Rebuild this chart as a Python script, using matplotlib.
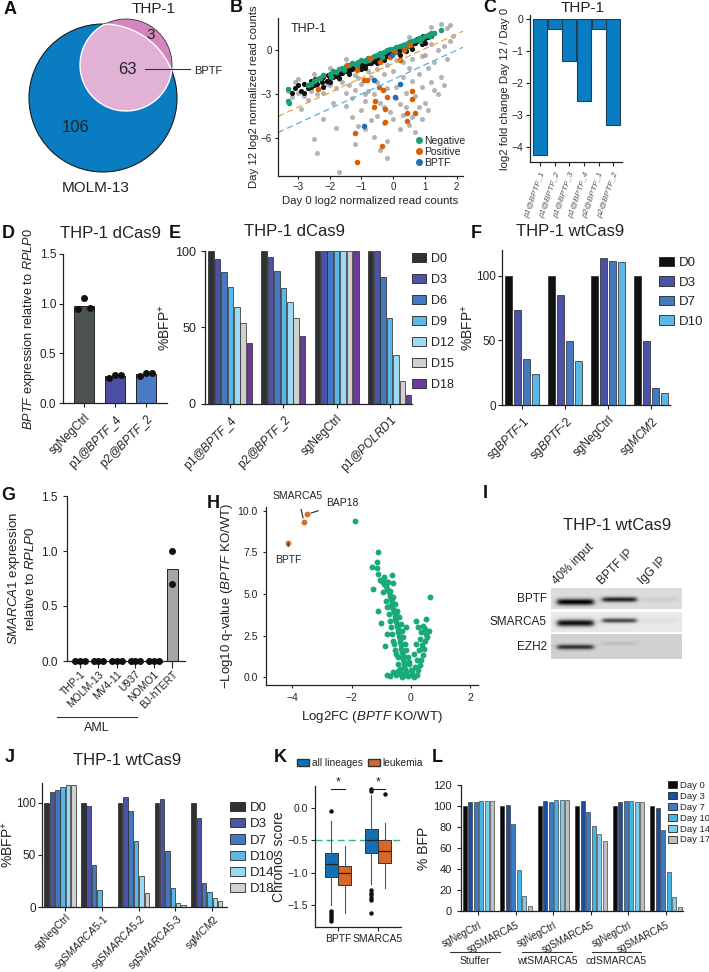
import numpy as np
import matplotlib
matplotlib.use('Agg')
import matplotlib.pyplot as plt
from matplotlib.patches import Circle, Patch
from matplotlib.lines import Line2D

plt.rcParams['font.family'] = ['Liberation Sans', 'DejaVu Sans']
plt.rcParams['mathtext.fontset'] = 'custom'
plt.rcParams['mathtext.rm'] = 'Liberation Sans'
plt.rcParams['mathtext.it'] = 'Liberation Sans:italic'
plt.rcParams['mathtext.bf'] = 'Liberation Sans:bold'
plt.rcParams.update({'axes.edgecolor': '#222222', 'xtick.color': '#222222', 'ytick.color': '#222222',
                     'text.color': '#222222', 'axes.labelcolor': '#222222', 'axes.linewidth': 0.9,
                     'xtick.major.size': 3, 'ytick.major.size': 3})

# ---------------- data ----------------
# A: venn counts
venn_only_molm = 106
venn_shared = 63
venn_only_thp = 3

# B: screen scatter (day0, day12)
gray_x = [-2.5, -1.5, 0.5, 1.2, 1.5, 1.8, 1.7, -3.0, -2.0, -3.2, -3.0, -2.8, -2.6, -2.4, -2.2, -2.0, -1.8, -1.6,
          -1.5, -1.4, -1.3, -1.2, -1.1, -1.0, -0.9, -0.8, -0.7, -0.6, -0.5, -0.4, -0.3, -0.2, -0.1, 0.0, 0.1, 0.2,
          0.3, 0.4, 0.5, 0.6, 0.7, 0.8, 0.9, 1.0, 1.1, 1.2, 1.3, 1.4, 1.5, 1.6, 1.7, 1.9, 1.2, 0.9, 0.6, 0.3, 0.1,
          -0.2, -0.5, -0.8, -1.2, -1.7, -2.1, -2.7, -2.5, -2.4, -1.7, -1.2, -0.9, -0.6, -0.5, -0.3, -0.2, 0.0, 0.2,
          0.4, 0.5, 0.9, 1.0, 1.1, 1.3, -1.0, -1.3, -1.8, -2.2, -1.5, -0.7, 0.3, 0.7, -0.4, 0.1, -0.9, 1.6, 0.8,
          -1.9, -2.9, -0.3, 0.6, -1.1, -0.2, -3.3, -3.1, 1.4, 1.8]
gray_y = [-1.6, -0.6, 0.9, 1.6, 1.8, 1.7, 1.5, -2.0, -1.2, -3.2, -2.9, -3.1, -2.8, -3.0, -2.9, -2.4, -2.6, -2.2,
          -2.9, -2.4, -3.3, -2.7, -1.9, -2.3, -3.5, -2.8, -1.8, -3.0, -2.2, -3.6, -1.6, -2.6, -4.2, -1.4, -2.5, -3.7,
          -1.8, -2.9, -1.2, -2.1, -3.1, -1.6, -2.5, -0.3, -1.2, -2.2, -0.8, -3.0, -1.8, 0.3, -0.6, 1.0, 0.4, -0.4,
          -0.6, -0.8, -0.7, -1.0, -1.3, -1.4, -1.7, -2.0, -2.3, -3.4, -6.1, -7.0, -8.3, -6.4, -5.4, -5.9, -4.5, -5.0,
          -6.2, -4.7, -5.4, -3.9, -5.1, -4.7, -3.6, -4.1, -2.7, -4.1, -4.6, -5.3, -4.7, -3.8, -4.8, -4.4, -5.6, -6.8,
          -3.3, -3.0, -2.4, -3.9, -3.6, -4.0, -3.9, -4.6, -5.2, -7.4, -2.8, -2.2, 0.0, 0.6]
black_x = [-3.2, -3.1, -3.0, -2.9, -2.8, -2.7, -2.6, -2.5, -2.45, -2.4, -2.3, -2.25, -2.2, -2.1, -2.05, -2.0, -1.95,
           -1.9, -1.85, -1.8, -1.75, -1.7, -1.65, -1.6, -1.55, -1.5, -1.45, -1.4, -1.35, -1.3, -1.25, -1.2, -1.15,
           -1.1, -1.05, -1.0, -0.95, -0.9, -0.85, -0.8, -0.75, -0.7, -0.65, -0.6, -0.55, -0.5, -0.45, -0.4, -0.35,
           -0.3, -0.25, -0.2, -0.15, -0.1, -0.05, 0.0, 0.05, 0.1, 0.15, 0.2, 0.25, 0.3, 0.35, 0.4, 0.45, 0.5, 0.55,
           0.6, 0.65, 0.7, 0.75, 0.8, 0.85, 0.9, 0.95, 1.0, 1.05, 1.1, 1.15, 1.2, 1.3, -2.6, -1.0, -0.5, 0.2, 0.6,
           -1.7, -2.2, 1.0, -1.4, -0.9, -0.3, 0.4, 0.9, -2.0, -2.8]
black_y = [-2.9, -2.6, -2.4, -2.8, -2.3, -2.6, -2.1, -2.4, -2.0, -2.3, -1.9, -2.2, -1.8, -2.1, -1.7, -1.9, -1.6,
           -1.8, -1.5, -1.75, -1.45, -1.6, -1.35, -1.55, -1.3, -1.45, -1.2, -1.4, -1.1, -1.3, -1.05, -1.25, -0.95,
           -1.15, -0.9, -1.05, -0.8, -1.0, -0.7, -0.9, -0.65, -0.85, -0.55, -0.75, -0.45, -0.7, -0.4, -0.6, -0.3,
           -0.5, -0.2, -0.4, -0.1, -0.3, 0.0, -0.2, 0.1, -0.1, 0.2, 0.0, 0.3, 0.1, 0.35, 0.2, 0.45, 0.3, 0.55,
           0.4, 0.65, 0.5, 0.75, 0.6, 0.85, 0.7, 0.95, 0.8, 1.0, 0.9, 1.1, 1.0, 1.2, -2.5, -1.3, -0.9, -0.3, 0.1,
           -1.9, -2.5, 0.5, -1.6, -1.2, -0.7, -0.05, 0.45, -2.2, -2.9]
neg_x = [-3.3, -3.32, -3.28, -2.7, -2.5, -2.3, -2.2, -2.0, -1.9, -1.8, -1.7, -1.6, -1.5, -1.4, -1.3, -1.2, -1.1,
         -1.0, -0.9, -0.8, -0.7, -0.6, -0.5, -0.4, -0.3, -0.2, -0.1, 0.0, 0.1, 0.2, 0.3, 0.4, 0.5, 0.6, 0.7, 0.8,
         0.9, 1.0, 1.1, 1.2, 1.3, 1.5, -2.6, -2.4, -1.95, -1.55, -1.15, -0.75, -0.35, 0.05, 0.45, 0.85, 1.15]
neg_y = [-2.65, -3.45, -3.6, -2.4, -2.1, -1.9, -1.7, -1.6, -1.45, -1.5, -1.3, -1.2, -1.1, -1.0, -0.9, -0.95, -0.8,
         -0.7, -0.75, -0.55, -0.5, -0.4, -0.3, -0.2, -0.15, 0.0, 0.05, 0.1, 0.2, 0.3, 0.35, 0.45, 0.55, 0.6, 0.7,
         0.8, 0.85, 0.95, 1.05, 1.15, 1.2, 1.4, -2.3, -2.0, -1.8, -1.35, -1.05, -0.7, -0.45, -0.1, 0.3, 0.65, 0.95]
pos_x = [-2.36, -0.93, -0.83, -0.46, -0.32, -0.19, -0.56, -0.62, -0.25, 0.60, 0.60, 0.44, 0.70, 0.44, -0.25,
         -1.20, -0.35, -1.14, 0.23, 0.02, 0.33, -0.09, -0.40, -0.72, 0.54, -1.14, -1.46]
pos_y = [-2.64, -2.06, -2.06, -2.52, -2.69, -3.22, -3.45, -3.91, -4.03, -2.76, -3.33, -4.26, -4.26, -4.84, -4.91,
         -5.65, -6.57, -7.62, -0.67, -0.09, 0.02, -0.44, -0.79, -0.56, 0.37, -1.37, -1.02]
bptf_x = [-0.62, 0.23, 0.07, -0.93, -0.04]
bptf_y = [-2.02, -2.29, -3.17, -5.19, -0.33]

# C: per-guide log2 fold change
c_guides = ['p1@BPTF_1', 'p1@BPTF_2', 'p1@BPTF_3', 'p1@BPTF_4', 'p2@BPTF_1', 'p2@BPTF_2']
c_lfc = [-4.25, -0.33, -1.33, -2.55, -0.33, -3.3]

# D: qPCR
d_groups = ['sgNegCtrl', 'p1@$\\it{BPTF}$_4', 'p2@$\\it{BPTF}$_2']
d_mean = [0.98, 0.27, 0.29]
d_reps = [[0.95, 1.06, 0.96], [0.25, 0.28, 0.28], [0.27, 0.30, 0.30]]

# E: dCas9 competition
e_groups = ['p1@$\\it{BPTF}$_4', 'p2@$\\it{BPTF}$_2', 'sgNegCtrl', 'p1@$\\it{POLRD1}$']
e_days = ['D0', 'D3', 'D6', 'D9', 'D12', 'D15', 'D18']
e_values = [[100, 94.5, 86, 76.5, 63.5, 53, 40],
            [100, 96, 87, 75.5, 66.5, 56, 44.5],
            [100, 100, 100, 100, 100, 100, 100],
            [100, 100, 83, 56, 32, 15, 5.7]]

# F: wtCas9 competition
f_groups = ['sg$\\it{BPTF}$-1', 'sg$\\it{BPTF}$-2', 'sgNegCtrl', 'sg$\\it{MCM2}$']
f_days = ['D0', 'D3', 'D7', 'D10']
f_values = [[100, 73.5, 36, 24],
            [100, 85.5, 49.5, 34],
            [100, 113.5, 111.5, 111],
            [100, 49.5, 13.5, 9.5]]

# G: SMARCA1 expression
g_lines = ['THP-1', 'MOLM-13', 'MV4-11', 'U937', 'NOMO1', 'BJ-hTERT']
g_mean = [0.0, 0.0, 0.0, 0.0, 0.0, 0.84]
g_reps = [[0, 0, 0], [0, 0, 0], [0, 0, 0], [0, 0, 0], [0, 0, 0], [1.0, 0.7]]

# H: proteomics volcano
h_hits = ['BPTF', 'SMARCA5', 'BAP18']
h_hit_fc = [-4.13, -3.6, -3.5]
h_hit_q = [8.07, 9.33, 9.8]
h_fc = [-1.87, 0.64, -1.1, -1.14, -1.3, -1.13, -1.1, -1.27, -1.04, -0.65, -0.82, -0.6, -0.93, -1.1, -1.0, -0.87,
        -0.6, -0.7, -0.49, -0.82, -0.6, -0.49, -0.15, 0.18, 0.24, 0.35, 0.46, 0.6, 0.18, 0.12, -0.06, 0.5, 0.42,
        0.3, 0.52, -0.95, -0.9, -0.85, -0.8, -0.75, -0.72, -0.68, -0.65, -0.62, -0.6, -0.57, -0.55, -0.52, -0.5,
        -0.48, -0.45, -0.43, -0.4, -0.38, -0.36, -0.34, -0.32, -0.3, -0.28, -0.26, -0.24, -0.22, -0.2, -0.18,
        -0.16, -0.7, -0.62, -0.55, -0.47, -0.4, -0.35, -0.3, -0.25, -0.2, -0.15, -0.1, -0.05, 0.0, 0.05, -0.85,
        -0.8, -0.75, -0.7, -0.66, -0.62, -0.58, -0.52, -0.45, -0.42, -0.38, -0.35, -0.5, -0.6, -0.7, -0.8, -0.3,
        -0.1, 0.1, 0.2, 0.25, 0.3, 0.35, 0.4, 0.45, 0.15, 0.05, -0.25, -0.45, 0.2, 0.28, 0.38, 0.55, 0.48, -0.98,
        -0.88, -0.78, -0.9]
h_q = [9.4, 4.8, 7.55, 6.9, 6.6, 6.55, 6.2, 5.3, 5.85, 6.15, 5.75, 5.65, 5.15, 4.0, 3.25, 1.85, 4.8, 4.3, 3.8,
       2.6, 2.2, 1.4, 3.0, 3.4, 3.0, 2.7, 2.2, 2.8, 2.0, 1.4, 0.9, 3.5, 3.1, 2.3, 2.6, 5.7, 5.6, 5.5, 5.3, 5.1,
       4.9, 4.7, 4.5, 4.3, 4.1, 3.9, 3.7, 3.5, 3.3, 3.1, 2.9, 2.7, 2.5, 2.3, 2.1, 1.9, 1.7, 1.5, 1.3, 1.1, 0.9,
       0.7, 0.5, 0.3, 0.1, 5.2, 4.8, 4.4, 4.0, 3.6, 3.2, 2.8, 2.4, 2.0, 1.6, 1.2, 0.8, 0.4, 0.1, 4.6, 4.2, 3.8,
       3.4, 3.0, 2.6, 2.0, 1.6, 1.2, 0.8, 0.5, 0.2, 0.1, 0.3, 0.05, 0.15, 0.0, 0.05, 0.0, 0.15, 0.4, 0.7, 1.0,
       1.3, 1.7, 0.6, 0.3, 0.2, 0.35, 1.0, 1.6, 1.9, 2.4, 2.9, 5.8, 5.75, 5.7, 6.0]

# I: co-IP blot
blot_rows = ['BPTF', 'SMARCA5', 'EZH2']
blot_lanes = ['40% input', 'BPTF IP', 'IgG IP']
band_intensity = [[0.85, 0.72, 0.05], [0.85, 0.62, 0.04], [0.62, 0.07, 0.0]]
row_background = [0.86, 0.91, 0.82]

# J: SMARCA5 competition
j_groups = ['sgNegCtrl', 'sg$\\it{SMARCA5}$-1', 'sg$\\it{SMARCA5}$-2', 'sg$\\it{SMARCA5}$-3', 'sg$\\it{MCM2}$']
j_days = ['D0', 'D3', 'D7', 'D10', 'D14', 'D18']
j_values = [[100, 110, 112, 115.5, 117, 117],
            [100, 97, 40, 16.5, 0, 0],
            [100, 106, 92.5, 63.5, 29.5, 13.5],
            [100, 104, 54, 18.5, 4, 1.5],
            [100, 85.5, 23.5, 14, 9, 6]]

# K: Chronos box stats (all lineages, leukemia)
k_genes = ['BPTF', 'SMARCA5']
k_stats = [
    dict(med=-0.87, q1=-1.06, q3=-0.69, whislo=-1.50, whishi=-0.20, fliers=[-0.04, -1.60, -1.63, -1.66, -1.69, -1.72, -1.75]),
    dict(med=-1.00, q1=-1.19, q3=-0.90, whislo=-1.63, whishi=-0.58, fliers=[]),
    dict(med=-0.50, q1=-0.69, q3=-0.33, whislo=-1.17, whishi=0.20, fliers=[0.30, 0.27, -1.27, -1.31, -1.35, -1.39, -1.43, -1.62]),
    dict(med=-0.66, q1=-0.85, q3=-0.49, whislo=-1.24, whishi=-0.23, fliers=[0.22]),
]

# L: rescue competition
l_groups = ['sgNegCtrl', 'sgSMARCA5', 'sgNegCtrl', 'sgSMARCA5', 'sgNegCtrl', 'sgSMARCA5']
l_rescue = ['Stuffer', 'wtSMARCA5', 'cdSMARCA5']
l_days = ['Day 0', 'Day 3', 'Day 7', 'Day 10', 'Day 14', 'Day 17']
l_values = [[100, 104, 103.5, 104.5, 104.5, 105],
            [100, 100.5, 82.5, 39.5, 14, 4.5],
            [100, 104.5, 104, 105.5, 106, 105.5],
            [100, 104.5, 94, 80.5, 73, 67],
            [100, 104, 104.5, 104.5, 104, 104],
            [100, 98, 77, 37, 13.5, 4]]

# ---------------- layout helpers ----------------
W, H = 709, 972
fig = plt.figure(figsize=(W / 100, H / 100), dpi=100)


def add_ax(x0, y0, x1, y1):
    return fig.add_axes([x0 / W, 1 - y1 / H, (x1 - x0) / W, (y1 - y0) / H])


def ftext(x, y, s, **kw):
    fig.text(x / W, 1 - y / H, s, **kw)


def fline(x0, x1, y, **kw):
    fig.add_artist(Line2D([x0 / W, x1 / W], [1 - y / H, 1 - y / H], color='#333333', lw=0.8, **kw))


def clean(ax):
    ax.spines['top'].set_visible(False)
    ax.spines['right'].set_visible(False)


def grouped_bars(ax, values, colors, stride, width, lw=0.5):
    for g, vals in enumerate(values):
        for i, v in enumerate(vals):
            ax.bar(g * stride + i, v, width=width, color=colors[i], edgecolor='#222222', linewidth=lw)


def day_legend(labels, colors, x, y, fs, spacing, hl=1.1, hh=0.7, pad=0.4):
    handles = [Patch(facecolor=c, edgecolor='#222222', linewidth=0.6) for c in colors]
    fig.legend(handles, labels, loc='upper left', bbox_to_anchor=(x / W, 1 - y / H), frameon=False,
               fontsize=fs, handlelength=hl, handleheight=hh, labelspacing=spacing, handletextpad=pad,
               borderpad=0, borderaxespad=0)


for letter, (x, y) in {'A': (10, 10), 'B': (236, 8), 'C': (490, 8), 'D': (8, 233), 'E': (175, 233),
                       'F': (476, 233), 'G': (8, 495), 'H': (213, 503), 'I': (485, 493), 'J': (10, 758),
                       'K': (280, 758), 'L': (437, 758)}.items():
    ftext(x, y, letter, fontsize=13, fontweight='bold', ha='center', va='center', color='#111111')

# ---------------- A ----------------
ax = add_ax(0, 0, 230, 200)
ax.set_xlim(0, 230)
ax.set_ylim(200, 0)
ax.axis('off')
blue = Circle((103, 98), 74, facecolor='#0A7CC1', edgecolor='#1a1a1a', lw=0.8)
ax.add_patch(blue)
pink = Circle((126, 65), 46, facecolor='#D585BE', edgecolor='#333333', lw=0.6)
ax.add_patch(pink)
light = Circle((126, 65), 46, facecolor='#E2B1D6', edgecolor='white', lw=1.0)
ax.add_patch(light)
light.set_clip_path(blue)
arc = Circle((103, 98), 74, fill=False, edgecolor='white', lw=1.0)
ax.add_patch(arc)
arc.set_clip_path(pink)
ax.text(154, 9, 'THP-1', fontsize=11, ha='center', va='center')
ax.text(151, 35, str(venn_only_thp), fontsize=11, ha='center', va='center')
ax.text(127, 70, str(venn_shared), fontsize=12, ha='center', va='center')
ax.text(76, 128, str(venn_only_molm), fontsize=12, ha='center', va='center')
ax.text(96, 188, 'MOLM-13', fontsize=11, ha='center', va='center')
ax.plot([145, 190], [69, 69], color='#333333', lw=0.8, clip_on=False)
ax.text(194, 71, 'BPTF', fontsize=8, ha='left', va='center')

# ---------------- B ----------------
ax = add_ax(278, 18, 463, 176)
clean(ax)
ax.scatter(gray_x, gray_y, s=13, color='#8C8C8C', alpha=0.65, lw=0)
ax.scatter(black_x, black_y, s=14, color='#111111', lw=0)
ax.scatter(neg_x, neg_y, s=16, color='#1B9E77', lw=0)
ax.scatter(pos_x, pos_y, s=16, color='#D95F02', lw=0)
ax.scatter(bptf_x, bptf_y, s=16, color='#1F6FB4', lw=0)
xx = np.array([-3.63, 2.2])
ax.plot(xx, xx - 0.9, ls=(0, (5, 3)), color='#F0A030', lw=0.9)
ax.plot(xx, xx - 2.0, ls=(0, (5, 3)), color='#5AB0E0', lw=0.9)
ax.set_xlim(-3.63, 2.2)
ax.set_ylim(-8.6, 2.2)
ax.set_xticks([-3, -2, -1, 0, 1, 2])
ax.set_xticklabels(['\u22123', '\u22122', '\u22121', '0', '1', '2'])
ax.set_yticks([-6, -3, 0])
ax.set_yticklabels(['\u22126', '\u22123', '0'])
ax.tick_params(labelsize=7, length=2.5, pad=2)
ax.set_ylabel('Day 12 log2 normalized read counts', fontsize=8.2, labelpad=1)
ax.set_xlabel('Day 0 log2 normalized read counts', fontsize=8.2, labelpad=3)
ax.text(0.07, 0.93, 'THP-1', transform=ax.transAxes, fontsize=9, va='center')
leg_h = [Line2D([], [], marker='o', ls='', color=c, ms=4) for c in ['#1B9E77', '#D95F02', '#1F6FB4']]
ax.legend(leg_h, ['Negative', 'Positive', 'BPTF'], loc='lower right', bbox_to_anchor=(1.04, 0.02), frameon=False,
          fontsize=7.5, handletextpad=0.0, labelspacing=0.1, borderpad=0, handlelength=1.0)

# ---------------- C ----------------
ax = add_ax(530, 15, 622, 162)
clean(ax)
ax.bar(range(len(c_lfc)), c_lfc, width=0.96, color='#0A7CC1', edgecolor='#23405a', linewidth=0.8)
ax.set_xlim(-0.7, 5.6)
ax.set_ylim(-4.47, 0.12)
ax.set_yticks([0, -1, -2, -3, -4])
ax.set_yticklabels(['0', '\u22121', '\u22122', '\u22123', '\u22124'])
ax.set_xticks(range(len(c_guides)))
ax.set_xticklabels(c_guides, rotation=70, ha='right', rotation_mode='anchor', fontsize=6, style='italic',
                   color='#555555')
ax.tick_params(axis='y', labelsize=7.5, pad=2)
ax.set_ylabel('log2 fold change Day 12 / Day 0', fontsize=8.2, labelpad=1)
ftext(583, 8, 'THP-1', fontsize=11, ha='center', va='center')

# ---------------- D ----------------
ax = add_ax(63, 254, 167, 403)
clean(ax)
d_colors = ['#4B5353', '#4A4FA3', '#4A7CC6']
ax.bar(range(3), d_mean, width=0.62, color=d_colors, edgecolor='#222222', linewidth=0.7)
for i, reps in enumerate(d_reps):
    ax.scatter(np.arange(len(reps)) * 0.2 - 0.2 + i, reps, s=16, color='#111111', zorder=3)
ax.set_xlim(-0.68, 2.68)
ax.set_ylim(0, 1.5)
ax.set_yticks([0, 0.5, 1.0, 1.5])
ax.set_yticklabels(['0.0', '0.5', '1.0', '1.5'])
ax.set_xticks(range(3))
ax.set_xticklabels(d_groups, rotation=45, ha='right', rotation_mode='anchor', fontsize=8.5)
ax.tick_params(axis='y', labelsize=8.5, pad=2)
ax.set_ylabel('$\\it{BPTF}$ expression relative to $\\it{RPLP0}$', fontsize=9.2, labelpad=2)
ftext(110, 233, 'THP-1 dCas9', fontsize=12, ha='center', va='center')

# ---------------- E ----------------
ax = add_ax(205, 251, 412, 404)
clean(ax)
e_colors = ['#2F3232', '#4C52A6', '#4479C2', '#5BB8E6', '#9CDAF2', '#D0D0D0', '#6A3D9A']
e_stride = 8.3
grouped_bars(ax, e_values, e_colors, e_stride, 0.88)
ax.set_xlim(-0.97, 31.4)
ax.set_ylim(0, 100)
ax.set_yticks([0, 50, 100])
ax.set_xticks(np.arange(len(e_groups)) * e_stride + 3)
ax.set_xticklabels(e_groups, rotation=45, ha='right', rotation_mode='anchor', fontsize=8.5)
ax.tick_params(axis='y', labelsize=9)
ax.set_ylabel('%BFP$^{+}$', fontsize=10, labelpad=2)
ftext(295, 232, 'THP-1 dCas9', fontsize=12, ha='center', va='center')
day_legend(e_days, e_colors, 412, 253, 9, 0.72)

# ---------------- F ----------------
ax = add_ax(502, 250, 670, 405)
clean(ax)
f_colors = ['#111111', '#4C52A6', '#4479C2', '#5BB8E6']
f_stride = 4.78
grouped_bars(ax, f_values, f_colors, f_stride, 0.74)
ax.set_xlim(-0.71, 17.96)
ax.set_ylim(0, 120)
ax.set_yticks([0, 50, 100])
ax.set_xticks(np.arange(len(f_groups)) * f_stride + 1.5)
ax.set_xticklabels(f_groups, rotation=45, ha='right', rotation_mode='anchor', fontsize=8.5)
ax.tick_params(axis='y', labelsize=8.5, pad=1.5)
ax.set_ylabel('%BFP$^{+}$', fontsize=10, labelpad=0)
ftext(570, 232, 'THP-1 wtCas9', fontsize=12, ha='center', va='center')
day_legend(f_days, f_colors, 659, 257, 9.5, 0.55)

# ---------------- G ----------------
ax = add_ax(67, 496, 185, 661)
clean(ax)
ax.bar(range(len(g_mean)), g_mean, width=0.63, color='#A6A6A6', edgecolor='#222222', linewidth=0.7)
for i, reps in enumerate(g_reps):
    if len(reps) == 3:
        xs = np.array([-0.25, 0.0, 0.25]) + i
    else:
        xs = np.zeros(len(reps)) + i
    ax.scatter(xs, reps, s=16, color='#111111', zorder=3, clip_on=False)
ax.set_xlim(-0.7, 5.68)
ax.set_ylim(0, 1.5)
ax.set_yticks([0, 0.5, 1.0, 1.5])
ax.set_yticklabels(['0.0', '0.5', '1.0', '1.5'])
ax.set_xticks(range(len(g_lines)))
ax.set_xticklabels(g_lines, rotation=45, ha='right', rotation_mode='anchor', fontsize=7.5)
ax.tick_params(axis='y', labelsize=8.5)
ax.tick_params(axis='x', length=5, pad=1)
ax.set_ylabel('$\\it{SMARCA1}$ expression\nrelative to $\\it{RPLP0}$', fontsize=9.5, labelpad=3)
fline(57, 137, 717)
ftext(97, 728, 'AML', fontsize=9, ha='center', va='center')

# ---------------- H ----------------
ax = add_ax(266, 507, 478, 685)
clean(ax)
ax.scatter(h_fc, h_q, s=18, color='#19A97B', lw=0)
ax.scatter(h_hit_fc, h_hit_q, s=18, color='#D9702A', lw=0, zorder=3)
label_pos = {'SMARCA5': (-3.8, 10.9), 'BAP18': (-2.3, 10.48), 'BPTF': (-4.14, 7.05)}
for name, fc, q in zip(h_hits, h_hit_fc, h_hit_q):
    ax.annotate(name, xy=(fc, q), xytext=label_pos[name], fontsize=7.5, ha='center', va='center',
                annotation_clip=False,
                arrowprops=dict(arrowstyle='-', lw=0.8, color='#222222', shrinkA=4, shrinkB=3))
ax.set_xlim(-4.88, 2.26)
ax.set_ylim(-0.48, 10.24)
ax.set_xticks([-4, -2, 0, 2])
ax.set_xticklabels(['\u22124', '\u22122', '0', '2'])
ax.set_yticks([0, 2.5, 5, 7.5, 10])
ax.set_yticklabels(['0.0', '2.5', '5.0', '7.5', '10.0'])
ax.tick_params(labelsize=7.5, length=2.5)
ax.set_ylabel('\u2212Log10 q-value ($\\it{BPTF}$ KO/WT)', fontsize=9.5, labelpad=2)
ax.set_xlabel('Log2FC ($\\it{BPTF}$ KO/WT)', fontsize=9.5, labelpad=4)

# ---------------- I ----------------
ftext(617, 525, 'THP-1 wtCas9', fontsize=12, ha='center', va='center')
for lane, x in zip(blot_lanes, [559, 604, 645]):
    ftext(x, 587, lane, fontsize=8.5, rotation=45, ha='left', va='bottom', rotation_mode='anchor')
ax = add_ax(551, 588, 682, 659)
bw, bh = 131, 71
row_span = [(0, 21), (24, 44), (46, 71)]
row_band_y = [[13.5, 11.0, 11.0], [34.5, 32.0, 32.0], [58.5, 55.0, 55.0]]
row_band_h = [[3.2, 2.6, 2.6], [3.4, 2.4, 2.4], [2.6, 2.2, 2.2]]
lane_cx = [24, 68, 109]
lane_hw = [18, 17, 17]
yy, xx = np.mgrid[0:bh, 0:bw]
img = np.ones((bh, bw))
for r, (y0, y1) in enumerate(row_span):
    seg = np.full((y1 - y0, bw), row_background[r])
    for l in range(3):
        prof_x = 1 / (1 + np.exp((np.abs(xx[y0:y1] - lane_cx[l]) - lane_hw[l]) / 1.5))
        prof_y = np.exp(-((yy[y0:y1] - row_band_y[r][l]) / row_band_h[r][l]) ** 2)
        seg = seg - band_intensity[r][l] * prof_x * prof_y
    img[y0:y1] = seg
ax.imshow(np.clip(img, 0, 1), cmap='gray', vmin=0, vmax=1, aspect='auto', interpolation='bilinear',
          extent=(0, bw, bh, 0))
ax.axis('off')
for name, (y0, y1) in zip(blot_rows, row_span):
    ftext(547, 588 + (y0 + y1) / 2, name, fontsize=8.5, ha='right', va='center')

# ---------------- J ----------------
ax = add_ax(42, 783, 227, 907)
clean(ax)
j_colors = ['#2F3232', '#4C52A6', '#4479C2', '#5BB8E6', '#9CDAF2', '#D0D0D0']
j_stride = 6.88
grouped_bars(ax, j_values, j_colors, j_stride, 0.85)
ax.set_xlim(-0.88, 33.8)
ax.set_ylim(0, 119)
ax.set_yticks([0, 50, 100])
ax.set_xticks(np.arange(len(j_groups)) * j_stride + 3.5)
ax.set_xticklabels(j_groups, rotation=45, ha='right', rotation_mode='anchor', fontsize=7.5)
ax.tick_params(axis='y', labelsize=8.5, pad=1.5)
ax.tick_params(axis='x', pad=1)
ax.set_ylabel('%BFP$^{+}$', fontsize=10, labelpad=0)
ftext(127, 760, 'THP-1 wtCas9', fontsize=12, ha='center', va='center')
day_legend(j_days, j_colors, 230, 802, 9.5, 0.3)

# ---------------- K ----------------
ax = add_ax(315, 786, 401, 927)
clean(ax)
k_pos = [-0.17, 0.17, 0.83, 1.17]
k_colors = ['#1470B5', '#D8672A', '#1470B5', '#D8672A']
bp = ax.bxp(k_stats, positions=k_pos, widths=0.33, patch_artist=True, showcaps=False,
            boxprops=dict(edgecolor='#333333', lw=0.7), medianprops=dict(color='#222222', lw=0.9),
            whiskerprops=dict(color='#555555', lw=0.8),
            flierprops=dict(marker='o', markersize=2.2, markerfacecolor='#111111', markeredgecolor='#111111'))
for box, c in zip(bp['boxes'], k_colors):
    box.set_facecolor(c)
ax.axhline(-0.5, color='#2BB58A', ls=(0, (5, 3)), lw=1.0, zorder=0)
for g in range(2):
    ax.plot([g - 0.17, g + 0.17], [0.29, 0.29], color='#222222', lw=0.8, clip_on=False)
    ax.text(g, 0.31, '*', fontsize=9, ha='center', va='bottom', clip_on=False)
ax.set_xlim(-0.575, 1.575)
ax.set_ylim(-1.84, 0.34)
ax.set_yticks([-1.5, -1.0, -0.5, 0.0])
ax.set_yticklabels(['\u22121.5', '\u22121.0', '\u22120.5', '0.0'])
ax.set_xticks([0, 1])
ax.set_xticklabels(k_genes)
ax.tick_params(labelsize=7.5, pad=2)
ax.set_ylabel('Chronos score', fontsize=10, labelpad=1)
k_handles = [Patch(facecolor='#1470B5', edgecolor='#333333'), Patch(facecolor='#D8672A', edgecolor='#333333')]
fig.legend(k_handles, ['all lineages', 'leukemia'], loc='center left', bbox_to_anchor=(297 / W, 1 - 763 / H),
           ncol=2, frameon=False, fontsize=7.3, handlelength=1.2, handleheight=0.8, handletextpad=0.25,
           columnspacing=0.5, borderpad=0, borderaxespad=0)

# ---------------- L ----------------
ax = add_ax(461, 785, 683, 911)
clean(ax)
l_colors = ['#0A0A0A', '#1D4E9E', '#3C7BC4', '#45B5E6', '#7ECBEA', '#BEBEBE']
l_stride = 6.82
grouped_bars(ax, l_values, l_colors, l_stride, 0.73, lw=0.4)
ax.set_xlim(-0.67, 39.7)
ax.set_ylim(0, 120)
ax.set_yticks([0, 20, 40, 60, 80, 100, 120])
ax.set_xticks(np.arange(len(l_groups)) * l_stride + 2.5)
ax.set_xticklabels(l_groups, rotation=27, ha='right', rotation_mode='anchor', fontsize=7)
ax.tick_params(axis='y', labelsize=8)
ax.set_ylabel('% BFP', fontsize=10, labelpad=2)
day_legend(l_days, l_colors, 668, 781, 6.8, 0.2, hl=1.0, hh=0.8, pad=0.3)
for name, (x0, x1) in zip(l_rescue, [(450, 500), (522, 572), (592, 641)]):
    fline(x0, x1, 952)
    ftext((x0 + x1) / 2, 961, name, fontsize=7.5, ha='center', va='center')

fig.savefig('out.png', dpi=100)
